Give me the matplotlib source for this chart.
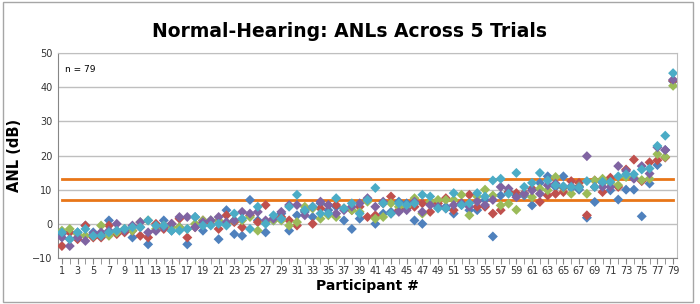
import matplotlib.pyplot as plt
from matplotlib.patches import Rectangle

# participant numbers 1..79
participants = list(range(1, 80))

# ANL (dB) per trial
trial1 = [-3, -4.5, -2.5, -0.5, -2.5, -3, 1, -2, -1.5, -4, -1, -6, -2, 1, -2, -1, -6, 2, -2, 1,
          -4.5, 4, -3, -3.5, 7, 1, -2.5, 1, 3, -2, 2.5, 3.5, 2, 6, 4, 5, 1, -1.5, 1.5, 7,
          0, 3, 3.5, 6.5, 6, 1, 0, 6, 5, 5, 3, 5.5, 4, 4, 7, -3.7, 8.3, 9.3, 8.3, 8.3,
          5.4, 12, 13.9, 10.8, 13.9, 10.5, 10, 1.8, 6.4, 12, 9.8, 7.1, 10, 10, 2.2, 11.8, 17.2, 21.6, 41.7]
trial2 = [-6.5, -2.5, -4.5, -0.5, -4, -4, -0.5, -3, -2.5, -2, -3.5, -4, 0, -1.5, 0, 1.5, -4, -1, 1, 0,
          -1.5, 2.5, 0.5, -1, 2.5, 0.5, 5.5, 1.5, 2, 1, -0.5, 4, 0, 4.5, 5.5, 5.5, 4.5, 4, 5, 2,
          2.5, 6, 8, 4, 4.5, 5, 6, 3.5, 6, 7.5, 4, 6, 8.5, 5, 5, 3, 4, 9.3, 9, 9,
          10.3, 6.4, 8.3, 8.8, 9.3, 12.5, 12, 2.5, 12.7, 9.3, 13.5, 10.8, 15.9, 18.8, 12.5, 18, 18.6, 19.4, 41.9]
trial3 = [-2, -1.5, -3, -3.5, -3.5, -0.5, -3.5, -2.5, -1.5, -2, 0.5, 1, -1.5, -0.5, -1, -1, -1.5, 0, 1, 1,
          1, 0, 1, 1, 2, -2, 0.5, 1, 1, -0.5, 0.5, 5, 4.5, 1.5, 2.5, 2, 4.5, 4, 3.5, 6.5,
          1.5, 2, 6, 5, 5, 7.5, 3, 6.5, 7, 7, 7, 8.5, 2.5, 8, 10, 8.3, 5.4, 5.9, 4.1, 8.8,
          7.8, 10.3, 9.8, 13.7, 10.5, 8.8, 11, 8.8, 12.7, 13.2, 12, 11.3, 13.7, 13.5, 12.8, 13.2, 20.4, 19.6, 40.4]
trial4 = [-4, -6.5, -4, -5, -3, -2.5, -2, 0, -2, -0.5, 0.5, -2.5, -2, -1, 0, 2, 2, -1, 0.5, 1,
          2, 0.5, 1, 3.5, 3, 3.5, 1, 1.5, 3.5, 5.5, 5.5, 2.5, 5, 6.5, 5.5, 3, 4, 5, 6, 7.5,
          5, 6.5, 3, 3.5, 4, 6.5, 3.5, 5.5, 5, 4.5, 5.5, 6, 5, 6.5, 5.5, 7, 10.8, 10.3, 7.8, 8.8,
          9.8, 8.8, 11.3, 11.8, 10.8, 11, 10.8, 19.8, 10.8, 10.8, 10.8, 16.9, 15.5, 13.2, 16.9, 14.7, 22.4, 21.6, 42.2]
trial5 = [-2.5, -4.5, -2.5, -1.5, -3.5, -3.5, -2.5, -2, -1.5, -1, -1, 1, -0.5, -0.5, -2, -2, -1.5, 2, -0.5, -0.5,
          0, -0.5, 3, 1.5, -1.5, 5, 0, 2.5, 1.5, 5, 8.5, 4, 5, 3, 3, 7.5, 4.5, 6, 3, 7,
          10.5, 6, 3, 6, 5.5, 6, 8.5, 8, 4.5, 4.5, 9, 5.5, 6, 9, 8, 12.7, 13.2, 8.8, 14.9, 10.8,
          12, 14.9, 12.7, 11.3, 11, 10.8, 10.6, 12.5, 10.8, 12.3, 12.3, 13.9, 14.5, 14.5, 15.9, 16.2, 22.8, 25.8, 44.1]

trials = [trial1, trial2, trial3, trial4, trial5]
colors = ['#4F81BD', '#C0504D', '#9BBB59', '#8064A2', '#4BACC6']
ref_lines = [7, 13]

fig = plt.figure(figsize=(7, 3.04), dpi=100)
fig.patches.append(Rectangle((0.004, 0.008), 0.986, 0.985, transform=fig.transFigure,
                             fill=False, edgecolor='#A6A6A6', linewidth=1))

ax = fig.add_axes([58 / 700, 1 - 258 / 304, 619 / 700, 205 / 304])

for y in range(-10, 51, 10):
    ax.axhline(y, color='#BFBFBF', linewidth=1, zorder=0)
for y in ref_lines:
    ax.plot([1, 79], [y, y], color='#E87618', linewidth=2, zorder=1)

for vals, c in zip(trials, colors):
    ax.scatter(participants, vals, marker='D', s=26, color=c, edgecolors='none', zorder=3)

ax.set_xlim(0.5, 79.5)
ax.set_ylim(-10, 50)
ax.set_yticks(range(-10, 51, 10))
ax.set_xticks(participants, minor=True)
ax.set_xticks(participants[::2])
ax.set_xticklabels([str(p) for p in participants[::2]])
ax.tick_params(axis='x', which='both', direction='out', length=4, color='#868686',
               labelsize=7, pad=2, labelcolor='#333333')
ax.tick_params(axis='y', length=0, labelsize=7, pad=4, labelcolor='#333333')

for side in ['top', 'right']:
    ax.spines[side].set_color('#BFBFBF')
for side in ['left', 'bottom']:
    ax.spines[side].set_color('#868686')

ax.text(0.012, 0.94, 'n = 79', transform=ax.transAxes, fontsize=6.5, va='top')

ax.set_ylabel('ANL (dB)', fontsize=10.5, fontweight='bold', labelpad=7)
ax.set_xlabel('Participant #', fontsize=10, fontweight='bold', labelpad=2)
fig.text(0.5, 0.895, 'Normal-Hearing: ANLs Across 5 Trials', ha='center', va='center',
         fontsize=13.5, fontweight='bold')

fig.savefig('out.png', dpi=100)
